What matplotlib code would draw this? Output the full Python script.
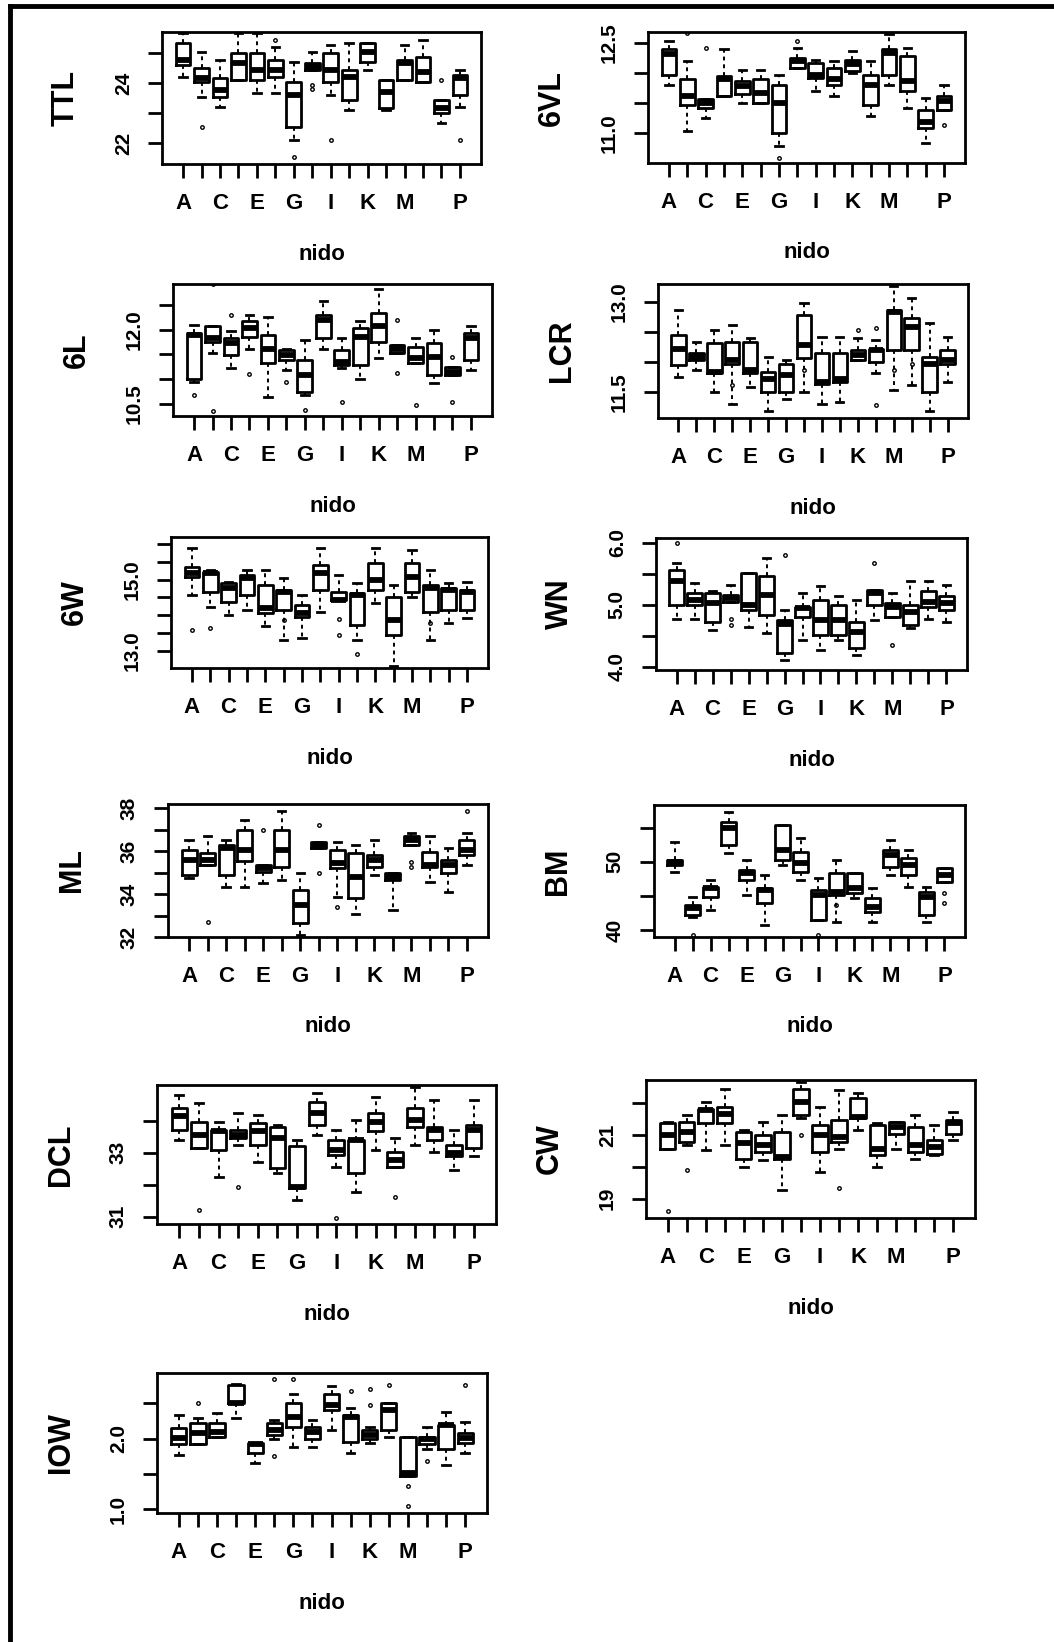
import matplotlib
matplotlib.use("Agg")
import matplotlib.pyplot as plt
from matplotlib.lines import Line2D
from matplotlib.transforms import offset_copy

plt.rcParams['font.family'] = ['Liberation Sans', 'DejaVu Sans']
plt.rcParams['font.weight'] = 'bold'

# groups (nido) and the labels R managed to print
nido = list("ABCDEFGHIJKLMNOP")
shown = ["A", "", "C", "", "E", "", "G", "", "I", "", "K", "", "M", "", "", "P"]

# TTL
ttl_lo = [24.21, 23.54, 23.21, 24.1, 23.66, 23.66, 22.1, 24.43, 23.6, 23.1, 24.43, 23.1, 24.1, 24.04, 22.66, 23.21]
ttl_q1 = [24.6, 24.04, 23.54, 24.1, 24.1, 24.21, 22.54, 24.43, 24.04, 23.43, 24.71, 23.16, 24.1, 24.04, 22.99, 23.6]
ttl_med = [24.77, 24.16, 23.77, 24.66, 24.43, 24.43, 23.6, 24.54, 24.43, 24.21, 25.04, 23.71, 24.66, 24.38, 23.16, 24.16]
ttl_q3 = [25.32, 24.49, 24.16, 24.99, 24.99, 24.77, 24.04, 24.66, 24.99, 24.43, 25.32, 24.1, 24.77, 24.88, 23.43, 24.27]
ttl_hi = [25.66, 25.04, 24.77, 25.66, 25.66, 25.21, 24.71, 25.04, 25.27, 25.32, 25.34, 24.1, 25.27, 25.43, 23.43, 24.43]
ttl_out = [[], [22.54], [], [], [], [25.43], [21.54], [23.93, 23.79], [22.1], [], [], [], [], [], [24.1], [22.1]]

# 6VL
vl_lo = [11.8, 11.03, 11.25, 11.61, 11.5, 11.5, 10.78, 12.08, 11.69, 11.61, 12.0, 11.28, 11.8, 11.42, 10.83, 11.39]
vl_q1 = [11.97, 11.47, 11.42, 11.61, 11.64, 11.5, 11.0, 12.08, 11.92, 11.8, 12.03, 11.47, 11.97, 11.69, 11.08, 11.39]
vl_med = [12.31, 11.61, 11.5, 11.89, 11.78, 11.67, 11.5, 12.19, 11.97, 11.89, 12.14, 11.8, 12.33, 11.86, 11.19, 11.53]
vl_q3 = [12.39, 11.89, 11.56, 11.94, 11.86, 11.89, 11.8, 12.25, 12.17, 12.08, 12.22, 11.97, 12.39, 12.28, 11.39, 11.61]
vl_hi = [12.53, 12.19, 11.56, 12.39, 12.05, 12.05, 11.97, 12.42, 12.22, 12.19, 12.36, 12.19, 12.64, 12.42, 11.58, 11.8]
vl_out = [[], [12.67], [12.42], [], [], [], [10.58], [12.53], [], [], [], [], [], [], [], [11.14]]

# 6L
l6_lo = [10.94, 11.52, 11.22, 11.62, 10.64, 11.18, 10.67, 11.62, 11.22, 11.01, 11.42, 11.52, 11.32, 10.91, 11.08, 11.18]
l6_q1 = [11.01, 11.76, 11.49, 11.86, 11.32, 11.39, 10.74, 11.83, 11.28, 11.28, 11.76, 11.52, 11.32, 11.08, 11.08, 11.39]
l6_med = [11.9, 11.83, 11.73, 12.03, 11.62, 11.49, 11.08, 12.2, 11.35, 11.86, 12.07, 11.62, 11.42, 11.45, 11.15, 11.83]
l6_q3 = [11.93, 12.07, 11.83, 12.17, 11.9, 11.59, 11.39, 12.31, 11.59, 12.03, 12.34, 11.69, 11.66, 11.73, 11.25, 11.93]
l6_hi = [12.1, 12.07, 11.97, 12.31, 12.27, 11.62, 11.8, 12.58, 11.83, 12.17, 12.82, 11.69, 11.83, 12.0, 11.25, 12.07]
l6_out = [[10.67], [12.92, 10.36], [12.31], [11.1], [], [10.95], [10.38], [], [10.53], [], [], [12.2, 11.13], [10.47], [], [11.45, 10.53], []]

# LCR
lcr_lo = [11.75, 11.86, 11.5, 11.31, 11.58, 11.19, 11.39, 11.5, 11.31, 11.33, 12.03, 11.81, 11.53, 11.61, 11.19, 11.67]
lcr_q1 = [11.94, 12.03, 11.81, 11.97, 11.81, 11.5, 11.5, 12.06, 11.64, 11.67, 12.03, 12.0, 12.19, 12.19, 11.5, 11.97]
lcr_med = [12.22, 12.08, 11.83, 12.03, 11.86, 11.72, 11.78, 12.28, 11.67, 11.72, 12.11, 12.19, 12.83, 12.58, 11.97, 12.03]
lcr_q3 = [12.44, 12.14, 12.31, 12.33, 12.33, 11.83, 11.97, 12.78, 12.14, 12.14, 12.19, 12.22, 12.86, 12.72, 12.08, 12.19]
lcr_hi = [12.86, 12.33, 12.53, 12.61, 12.39, 12.08, 12.03, 12.97, 12.42, 12.42, 12.39, 12.36, 13.25, 13.06, 12.64, 12.42]
lcr_out = [[], [], [], [11.61], [], [], [], [11.86], [], [], [12.53], [12.56, 11.28], [11.86], [11.97], [], []]

# 6W
w6_lo = [14.57, 14.24, 14.01, 14.15, 13.68, 13.31, 13.36, 14.1, 14.43, 13.31, 14.34, 12.56, 14.52, 13.31, 13.78, 13.92]
w6_q1 = [15.08, 14.66, 14.38, 14.57, 14.06, 14.15, 13.96, 14.71, 14.43, 13.73, 14.71, 13.45, 14.66, 14.1, 14.15, 14.15]
w6_med = [15.18, 15.2, 14.76, 15.04, 14.2, 14.66, 14.06, 15.18, 14.43, 14.57, 14.99, 13.87, 15.08, 14.76, 14.71, 14.66]
w6_q3 = [15.36, 15.22, 14.9, 15.13, 14.85, 14.71, 14.29, 15.41, 14.66, 14.62, 15.46, 14.52, 15.46, 14.85, 14.76, 14.71]
w6_hi = [15.88, 15.27, 14.94, 15.27, 15.27, 15.04, 14.57, 15.88, 15.13, 14.9, 15.88, 14.85, 15.83, 15.27, 14.9, 14.94]
w6_out = [[13.59], [13.64], [], [], [], [13.87], [], [], [13.9, 13.45], [12.9], [], [], [], [13.78], [], []]

# WN
wn_lo = [4.78, 4.78, 4.59, 5.05, 4.65, 4.54, 4.11, 4.43, 4.27, 4.43, 4.19, 4.76, 4.81, 4.62, 4.78, 4.73]
wn_q1 = [5.0, 5.0, 4.73, 5.05, 4.92, 4.84, 4.22, 4.81, 4.51, 4.51, 4.3, 5.0, 4.81, 4.68, 4.97, 4.92]
wn_med = [5.38, 5.08, 5.03, 5.11, 5.0, 5.16, 4.7, 4.95, 4.76, 4.76, 4.57, 5.19, 4.97, 4.89, 5.05, 5.03]
wn_q3 = [5.57, 5.19, 5.19, 5.16, 5.51, 5.46, 4.76, 4.97, 5.08, 5.0, 4.73, 5.24, 5.03, 5.0, 5.22, 5.14]
wn_hi = [5.68, 5.35, 5.22, 5.32, 5.51, 5.76, 4.92, 5.19, 5.3, 5.14, 5.08, 5.24, 5.19, 5.38, 5.38, 5.32]
wn_out = [[6.0], [], [], [4.78, 4.68], [], [], [5.81], [], [], [], [], [5.68], [4.35], [], [], []]

# ML
ml_lo = [34.73, 35.36, 34.34, 34.34, 34.5, 34.66, 32.08, 36.14, 33.88, 33.09, 34.89, 33.25, 36.3, 34.58, 34.11, 35.36]
ml_q1 = [34.89, 35.36, 34.89, 35.52, 35.05, 35.28, 32.63, 36.14, 35.2, 33.8, 35.28, 34.66, 36.3, 35.28, 34.97, 35.83]
ml_med = [35.59, 35.59, 36.14, 36.06, 35.2, 36.06, 33.48, 36.3, 35.44, 34.81, 35.59, 34.81, 36.53, 35.36, 35.36, 36.06]
ml_q3 = [36.06, 35.9, 36.3, 37.0, 35.36, 37.0, 34.19, 36.45, 36.06, 35.9, 35.83, 34.97, 36.69, 35.98, 35.59, 36.53]
ml_hi = [36.53, 36.69, 36.53, 37.47, 35.36, 37.86, 34.97, 36.45, 36.45, 36.3, 36.53, 34.97, 36.84, 36.69, 36.14, 36.84]
ml_out = [[], [32.7], [], [], [37.0], [], [], [37.2, 34.97], [33.4], [], [], [], [35.5, 35.28], [], [], [37.86]]

# BM
bm_lo = [48.54, 41.95, 42.93, 51.22, 45.12, 40.73, 49.51, 47.32, 41.46, 41.22, 44.63, 41.22, 48.05, 46.34, 41.22, 47.07]
bm_q1 = [49.51, 42.2, 44.88, 52.44, 47.32, 43.9, 50.24, 48.54, 41.46, 45.12, 45.37, 42.68, 49.27, 48.05, 42.2, 47.07]
bm_med = [50.0, 43.17, 46.1, 54.88, 48.29, 45.85, 51.71, 49.76, 45.12, 45.61, 46.1, 43.41, 50.98, 49.51, 44.88, 48.05]
bm_q3 = [50.24, 43.66, 46.34, 55.85, 48.78, 46.1, 55.37, 51.46, 45.85, 48.29, 48.29, 44.63, 51.71, 50.49, 45.61, 49.02]
bm_hi = [52.93, 44.88, 47.32, 57.32, 50.24, 48.05, 55.37, 53.41, 47.56, 50.24, 48.29, 46.1, 53.17, 51.71, 46.34, 49.02]
bm_out = [[], [39.3], [], [], [], [], [], [], [39.3], [43.66], [], [], [], [], [], [45.37, 43.9]]

# DCL
dcl_lo = [33.4, 33.14, 32.25, 33.24, 32.72, 32.35, 31.52, 33.55, 32.56, 31.78, 33.08, 32.56, 33.24, 33.03, 32.46, 32.88]
dcl_q1 = [33.71, 33.14, 33.08, 33.45, 33.24, 32.51, 31.89, 33.86, 32.93, 32.35, 33.66, 32.56, 33.81, 33.4, 32.88, 33.14]
dcl_med = [34.13, 33.55, 33.66, 33.55, 33.66, 33.45, 31.94, 34.23, 33.08, 33.4, 33.97, 32.77, 34.02, 33.71, 32.98, 33.71]
dcl_q3 = [34.39, 33.97, 33.71, 33.71, 33.92, 33.81, 33.19, 34.59, 33.4, 33.4, 34.23, 33.03, 34.39, 33.81, 33.24, 33.86]
dcl_hi = [34.8, 34.54, 33.97, 34.23, 34.18, 33.86, 33.4, 34.85, 33.71, 34.02, 34.75, 33.45, 35.06, 34.65, 33.71, 34.65]
dcl_out = [[], [31.21], [], [31.94], [], [], [], [], [30.95], [], [], [31.62], [], [], [], []]

# CW
cw_lo = [20.58, 20.68, 20.53, 20.68, 20.0, 20.21, 19.26, 21.53, 19.84, 20.58, 21.16, 20.0, 20.58, 20.26, 20.37, 20.84]
cw_q1 = [20.58, 20.79, 21.37, 21.37, 20.26, 20.47, 20.26, 21.63, 20.47, 20.79, 21.53, 20.37, 21.05, 20.47, 20.42, 21.05]
cw_med = [21.0, 21.11, 21.79, 21.68, 20.74, 20.68, 20.32, 22.05, 21.0, 20.95, 21.58, 20.58, 21.26, 20.68, 20.63, 21.37]
cw_q3 = [21.37, 21.42, 21.84, 21.89, 21.11, 21.0, 21.11, 22.47, 21.32, 21.47, 22.16, 21.32, 21.42, 21.26, 20.84, 21.47]
cw_hi = [21.42, 21.63, 22.05, 22.47, 21.16, 21.42, 21.63, 22.68, 21.89, 22.42, 22.32, 21.37, 21.42, 21.63, 21.32, 21.74]
cw_out = [[18.6], [19.9], [], [], [], [], [], [21.0], [], [19.32], [], [], [], [], [], []]

# IOW
iow_lo = [1.77, 1.92, 2.03, 2.29, 1.66, 1.99, 1.89, 1.89, 2.13, 1.8, 1.94, 2.03, 1.47, 1.85, 1.63, 1.8]
iow_q1 = [1.92, 1.92, 2.03, 2.5, 1.8, 2.06, 2.17, 1.99, 2.41, 1.96, 1.99, 2.13, 1.47, 1.92, 1.85, 1.94]
iow_med = [2.01, 2.08, 2.1, 2.5, 1.92, 2.13, 2.31, 2.1, 2.48, 2.31, 2.06, 2.41, 1.52, 1.99, 2.2, 2.01]
iow_q3 = [2.15, 2.22, 2.22, 2.76, 1.94, 2.22, 2.5, 2.17, 2.64, 2.34, 2.13, 2.5, 2.03, 2.03, 2.2, 2.08]
iow_hi = [2.34, 2.29, 2.36, 2.78, 1.94, 2.27, 2.64, 2.27, 2.74, 2.43, 2.17, 2.5, 2.03, 2.17, 2.38, 2.24]
iow_out = [[], [2.5], [], [], [], [2.85, 1.76], [2.85], [], [], [2.68], [2.7, 2.48], [2.76], [1.33, 1.05], [1.69], [], [2.76]]

# name, stats, y range, ticks, tick labels, box (left, top, right, bottom) in pixels
panels = [
    ("TTL", (ttl_lo, ttl_q1, ttl_med, ttl_q3, ttl_hi, ttl_out), (21.3, 25.7),
     [22, 23, 24, 25], ["22", "", "24", ""], (162, 32, 481, 164)),
    ("6VL", (vl_lo, vl_q1, vl_med, vl_q3, vl_hi, vl_out), (10.5, 12.68),
     [11.0, 11.5, 12.0, 12.5], ["11.0", "", "", "12.5"], (648, 32, 965, 163)),
    ("6L", (l6_lo, l6_q1, l6_med, l6_q3, l6_hi, l6_out), (10.25, 12.93),
     [10.5, 11.0, 11.5, 12.0, 12.5], ["10.5", "", "", "12.0", ""], (173, 284, 492, 416)),
    ("LCR", (lcr_lo, lcr_q1, lcr_med, lcr_q3, lcr_hi, lcr_out), (11.07, 13.29),
     [11.5, 12.0, 12.5, 13.0], ["11.5", "", "", "13.0"], (658, 284, 968, 418)),
    ("6W", (w6_lo, w6_q1, w6_med, w6_q3, w6_hi, w6_out), (12.51, 16.2),
     [13.0, 13.5, 14.0, 14.5, 15.0, 15.5, 16.0], ["13.0", "", "", "", "15.0", "", ""], (171, 537, 488, 668)),
    ("WN", (wn_lo, wn_q1, wn_med, wn_q3, wn_hi, wn_out), (3.95, 6.08),
     [4.0, 4.5, 5.0, 5.5, 6.0], ["4.0", "", "5.0", "", "6.0"], (656, 538, 967, 670)),
    ("ML", (ml_lo, ml_q1, ml_med, ml_q3, ml_hi, ml_out), (32.0, 38.2),
     [32, 33, 34, 35, 36, 37, 38], ["32", "", "34", "", "36", "", "38"], (168, 804, 488, 937)),
    ("BM", (bm_lo, bm_q1, bm_med, bm_q3, bm_hi, bm_out), (39.0, 58.3),
     [40, 45, 50, 55], ["40", "", "50", ""], (654, 805, 965, 937)),
    ("DCL", (dcl_lo, dcl_q1, dcl_med, dcl_q3, dcl_hi, dcl_out), (30.77, 35.11),
     [31, 32, 33, 34], ["31", "", "33", ""], (157, 1085, 496, 1224)),
    ("CW", (cw_lo, cw_q1, cw_med, cw_q3, cw_hi, cw_out), (18.39, 22.74),
     [19, 20, 21, 22], ["19", "", "21", ""], (646, 1080, 975, 1218)),
    ("IOW", (iow_lo, iow_q1, iow_med, iow_q3, iow_hi, iow_out), (0.95, 2.93),
     [1.0, 1.5, 2.0, 2.5], ["1.0", "", "2.0", ""], (157, 1373, 487, 1513)),
]

W, H = 1054, 1642
fig = plt.figure(figsize=(W / 100, H / 100), dpi=100)
fig.patch.set_facecolor("white")

# scanned page frame (left and top edges)
fig.add_artist(Line2D([10 / W, 10 / W], [0, 1 - 6 / H], transform=fig.transFigure, color="black", lw=3.5))
fig.add_artist(Line2D([10 / W, 1], [1 - 6 / H, 1 - 6 / H], transform=fig.transFigure, color="black", lw=3.5))

for name, (lo, q1, med, q3, hi, out), ylim, yt, ytl, (l, t, r, b) in panels:
    ax = fig.add_axes([l / W, 1 - b / H, (r - l) / W, (b - t) / H])
    stats = []
    for i, n in enumerate(nido):
        stats.append(dict(label=n, whislo=lo[i], q1=q1[i], med=med[i], q3=q3[i],
                          whishi=hi[i], fliers=out[i]))
    ax.bxp(stats, positions=range(1, 17), widths=0.8, capwidths=0.4, showfliers=True,
           boxprops=dict(color="black", linewidth=2.0),
           medianprops=dict(color="black", linewidth=4.2, solid_capstyle="butt"),
           whiskerprops=dict(color="black", linewidth=1.4, linestyle=(0, (2, 2))),
           capprops=dict(color="black", linewidth=2.0),
           flierprops=dict(marker="o", markersize=2.5, markerfacecolor="none",
                           markeredgecolor="black", markeredgewidth=1.0))
    ax.set_xlim(-0.14, 17.14)
    ax.set_ylim(*ylim)
    ax.set_xticks(range(1, 17))
    ax.set_xticklabels(shown, fontsize=16, fontweight="bold")
    ax.set_yticks(yt)
    ax.set_yticklabels(ytl, fontsize=15, fontweight="bold", rotation=90, va="center")
    ax.tick_params(axis="x", length=10, width=2.0, pad=11)
    ax.tick_params(axis="y", length=10, width=2.0, pad=11)
    for s in ax.spines.values():
        s.set_linewidth(2.0)
    ax.text(0, 0.5, name, transform=offset_copy(ax.transAxes, fig=fig, x=-96, y=0, units="dots"),
            rotation=90, ha="center", va="center", fontsize=22, fontweight="bold")
    ax.text(0.5, 0, "nido", transform=offset_copy(ax.transAxes, fig=fig, x=0, y=-90, units="dots"),
            ha="center", va="center", fontsize=16, fontweight="bold")

fig.savefig("out.png", dpi=100)
